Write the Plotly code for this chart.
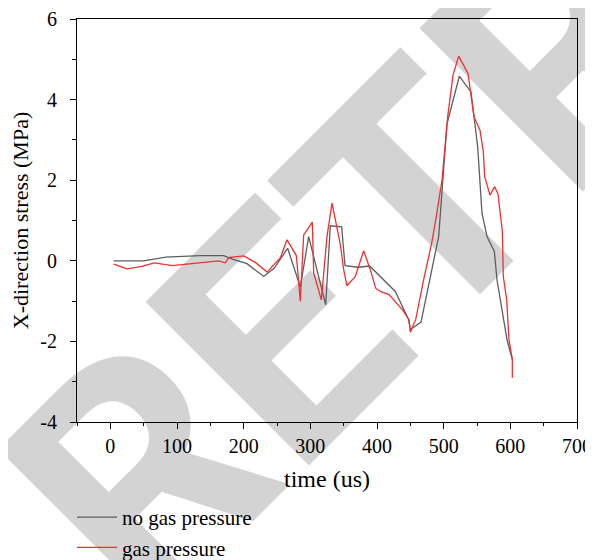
import plotly.graph_objects as go

# no gas pressure
t_no = [5, 50, 83, 135, 170, 182, 205, 230, 246, 266, 285, 297.5, 323, 330, 347, 352, 372, 389,
        427.5, 447.5, 450, 466, 492.5, 499, 505, 523.5, 541, 551, 557.5, 565, 576, 580, 595, 603]
s_no = [0, 0, 0.09, 0.13, 0.13, 0.05, -0.07, -0.39, -0.18, 0.31, -0.65, 0.6, -1.09, 0.87, 0.84, -0.12, -0.16, -0.13,
        -0.76, -1.46, -1.71, -1.52, 0.6, 2.0, 3.4, 4.58, 4.19, 2.83, 1.18, 0.6, 0.23, -0.47, -1.96, -2.45]

# gas pressure
t_gas = [5, 25, 47.5, 66, 93, 125, 162.5, 172.5, 177.5, 200, 217.5, 235, 245, 255, 265, 279, 285, 290, 303, 305,
         316.5, 325, 332.5, 340, 345, 350, 355, 367.5, 380, 390, 398, 405, 418, 438, 448, 450, 458, 470,
         482.5, 489, 497.5, 506, 514, 522.5, 536.5, 545.5, 554.5, 559.5, 561.5, 569.5, 576.5, 581.5,
         588, 589.5, 594.5, 598, 603, 603]
s_gas = [-0.08, -0.2, -0.14, -0.05, -0.12, -0.07, 0.0, -0.05, 0.08, 0.12, -0.04, -0.28, -0.1, 0.07, 0.52, 0.13, -1.0,
         0.64, 0.96, -0.3, -0.97, 0.6, 1.43, 0.8, 0.4, -0.22, -0.62, -0.39, 0.25, -0.22, -0.68, -0.76, -0.84,
         -1.21, -1.46, -1.77, -1.46, -0.47, 0.48, 1.1, 2.0, 3.57, 4.6, 5.08, 4.65, 3.57, 3.24, 2.7, 2.09,
         1.63, 1.84, 1.66, 0.73, -0.39, -0.97, -1.96, -2.45, -2.9]

x_ticks = [0, 100, 200, 300, 400, 500, 600, 700]
x_labels = ["0", "100", "200", "300", "400", "500", "600", "700"]
y_ticks = [-4, -2, 0, 2, 4, 6]
y_labels = ["-4", "-2", "0", "2", "4", "6"]

fig = go.Figure()
fig.add_trace(go.Scatter(x=t_no, y=s_no, mode="lines", name="no gas pressure",
                         line=dict(color="#5e5e5e", width=1.3)))
fig.add_trace(go.Scatter(x=t_gas, y=s_gas, mode="lines", name="gas pressure",
                         line=dict(color="#f03030", width=1.3)))

axis_common = dict(showline=True, linecolor="black", linewidth=1.2, mirror=True,
                   ticks="outside", ticklen=6, tickcolor="black", tickwidth=1.2,
                   showgrid=False, zeroline=False, automargin=False)

fig.update_xaxes(range=[-50, 700], tickvals=x_ticks, ticktext=x_labels, ticklabelstandoff=0,
                 minor=dict(ticks="outside", ticklen=3, dtick=50, tick0=0, tickcolor="black"),
                 title=dict(text="time (us)", standoff=14), **axis_common)
fig.update_yaxes(range=[-4, 6], tickvals=y_ticks, ticktext=y_labels, ticklabelstandoff=9,
                 minor=dict(ticks="outside", ticklen=4, dtick=1, tick0=0, tickcolor="black"),
                 title=dict(text="X-direction stress (MPa)", standoff=5, font=dict(size=22)),
                 **axis_common)

fig.add_shape(type="rect", xref="paper", yref="paper", x0=1.234, x1=1.244, y0=1.321, y1=1.331,
              line=dict(width=0), fillcolor="rgba(0,0,0,0)", layer="below",
              label=dict(text="RETRACTED", textangle=-45, textposition="middle center",
                         font=dict(size=325, color="#d3d3d3", family="Roboto", weight="bold")))

fig.update_layout(
    width=593, height=560,
    margin=dict(l=69, r=24, t=11, b=146),
    paper_bgcolor="white", plot_bgcolor="rgba(0,0,0,0)",
    font=dict(family="Liberation Serif", size=20, color="black"),
    showlegend=True,
    legend=dict(xref="paper", yref="container", x=-0.01, xanchor="left", y=0.127, yanchor="top",
                orientation="v", bgcolor="rgba(0,0,0,0)", itemwidth=40, tracegroupgap=0,
                font=dict(size=21)),
)

fig.write_html("out.html")
